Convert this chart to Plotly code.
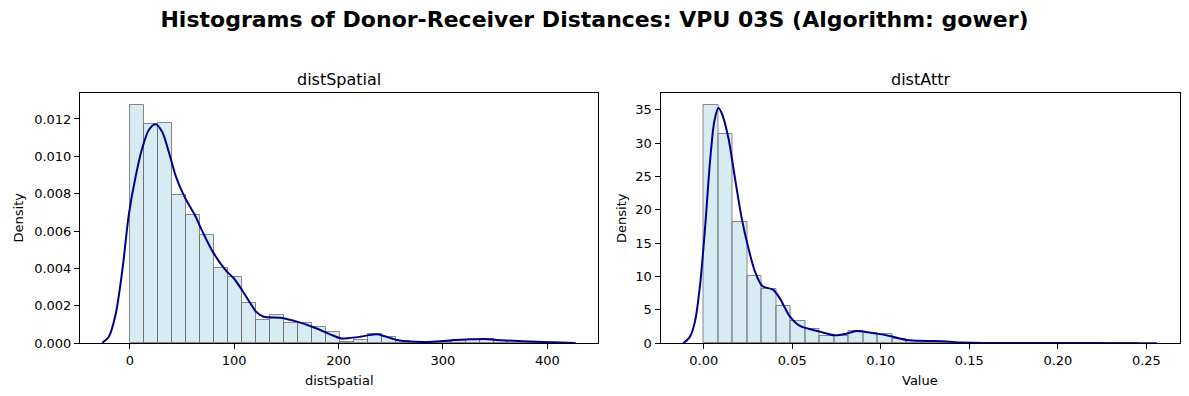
import numpy as np
import plotly.graph_objects as go

# ---------------- data ----------------
spatial_bin_start = 0.0
spatial_bin_width = 13.4
spatial_density = [0.01273, 0.01173, 0.01177, 0.00793, 0.00686, 0.00579, 0.00401, 0.00357,
                   0.00213, 0.00127, 0.00154, 0.00111, 0.00106, 0.00085, 0.00059, 0.00009,
                   0.00018, 0.00048, 0.00036, 0.00014, 0.00005, 0.00005, 0.00007, 0.00018,
                   0.00020, 0.00022, 0.00010, 0.00014, 0.00005, 0.00004]
spatial_kde_x = [-26.4, -20.1, -13.7, -7.3, -0.9, 5.5, 11.9, 18.2, 24.6, 31.0, 37.3, 43.7,
                 50.1, 54.0, 62.9, 67.4, 75.6, 80.4, 86.8, 93.2, 99.6, 107.5, 115.5, 121.0,
                 128.2, 144.2, 160.2, 176.0, 192.0, 201.6, 210.0, 220.7, 236.7, 255.8,
                 268.6, 285.0, 303.7, 326.0, 340.0, 351.5, 367.7, 383.4, 405.0, 427.0]
spatial_kde_y = [0.00003, 0.00035, 0.00151, 0.00383, 0.00690, 0.00890, 0.01043, 0.01141,
                 0.01172, 0.01132, 0.01025, 0.00900, 0.00811, 0.00767, 0.00680, 0.00624,
                 0.00530, 0.00481, 0.00428, 0.00383, 0.00348, 0.00285, 0.00214, 0.00169,
                 0.00142, 0.00137, 0.00116, 0.00086, 0.00048, 0.00027, 0.00028, 0.00035,
                 0.00048, 0.00018, 0.00009, 0.00007, 0.00014, 0.00021, 0.00023, 0.00018,
                 0.00013, 0.00009, 0.00005, 0.00002]

attr_bin_start = 0.0
attr_bin_width = 0.00819
attr_density = [35.7, 31.35, 18.15, 10.05, 8.1, 5.55, 3.3, 2.15, 1.14, 1.1, 1.8, 1.55,
                1.4, 0.7, 0.35, 0.25, 0.2, 0.1, 0.08, 0.06, 0.05, 0.04, 0.04, 0.03,
                0.03, 0.02, 0.02, 0.02, 0.02, 0.02]
attr_kde_x = [-0.0116, -0.0078, -0.005, -0.0021, 0.0007, 0.0035, 0.0059, 0.0082, 0.0101,
              0.0139, 0.0176, 0.0214, 0.0252, 0.0289, 0.033, 0.0393, 0.043, 0.0487, 0.0543,
              0.0656, 0.074, 0.080, 0.0864, 0.0977, 0.105, 0.1146, 0.125, 0.135, 0.146,
              0.16, 0.18, 0.20, 0.22, 0.24, 0.256]
attr_kde_y = [0.0, 1.0, 3.25, 8.75, 17.25, 27.2, 33.2, 35.25, 34.5, 30.75, 24.75, 18.75,
              14.25, 10.75, 8.6, 8.0, 6.7, 4.0, 2.6, 1.75, 1.2, 1.4, 1.85, 1.45, 1.1,
              0.5, 0.35, 0.3, 0.12, 0.06, 0.04, 0.03, 0.03, 0.02, 0.01]

spatial_xticks = [0, 100, 200, 300, 400]
spatial_yticks = [0.000, 0.002, 0.004, 0.006, 0.008, 0.010, 0.012]
attr_xticks = [0.00, 0.05, 0.10, 0.15, 0.20, 0.25]
attr_yticks = [0, 5, 10, 15, 20, 25, 30, 35]

title_text = "Histograms of Donor-Receiver Distances: VPU 03S (Algorithm: gower)"
panel_titles = ["distSpatial", "distAttr"]
x_titles = ["distSpatial", "Value"]

# ---------------- figure ----------------
W, H = 1189, 396
FONT = "DejaVu Sans"
BAR_FILL = "rgba(173,216,230,0.5)"
BAR_EDGE = "rgba(100,100,100,0.75)"
KDE_COLOR = "#00008B"

def centers(start, width, n):
    return start + width * (np.arange(n) + 0.5)

fig = go.Figure()
fig.add_trace(go.Bar(
    x=centers(spatial_bin_start, spatial_bin_width, len(spatial_density)),
    y=spatial_density, width=spatial_bin_width,
    marker=dict(color=BAR_FILL, line=dict(color=BAR_EDGE, width=1)),
    xaxis="x", yaxis="y", showlegend=False, hoverinfo="skip"))
fig.add_trace(go.Scatter(
    x=spatial_kde_x, y=spatial_kde_y, mode="lines",
    line=dict(color=KDE_COLOR, width=2, shape="spline", smoothing=0.8),
    xaxis="x", yaxis="y", showlegend=False))
fig.add_trace(go.Bar(
    x=centers(attr_bin_start, attr_bin_width, len(attr_density)),
    y=attr_density, width=attr_bin_width,
    marker=dict(color=BAR_FILL, line=dict(color=BAR_EDGE, width=1)),
    xaxis="x2", yaxis="y2", showlegend=False, hoverinfo="skip"))
fig.add_trace(go.Scatter(
    x=attr_kde_x, y=attr_kde_y, mode="lines",
    line=dict(color=KDE_COLOR, width=2, shape="spline", smoothing=0.8),
    xaxis="x2", yaxis="y2", showlegend=False))

def px_x(p):
    return p / W

def px_y(p):
    return 1 - p / H

axis_common = dict(showline=True, linecolor="black", linewidth=1, mirror=True,
                   ticks="outside", ticklen=5, tickwidth=1, tickcolor="black",
                   showgrid=False, zeroline=False, automargin=False,
                   tickfont=dict(family=FONT, size=13, color="black"))

y_dom = [px_y(343.3), px_y(93)]
fig.update_layout(
    template="none",
    width=W, height=H, margin=dict(l=0, r=0, t=0, b=0, pad=0), autosize=False,
    plot_bgcolor="white", paper_bgcolor="white", bargap=0,
    font=dict(family=FONT, color="black"),
    title=dict(text="<b>" + title_text + "</b>", x=0.5, xanchor="center",
               y=px_y(19), yanchor="middle", automargin=False,
               font=dict(family=FONT, size=22, color="black")),
    xaxis=dict(domain=[px_x(80), px_x(598)], range=[-47.7, 448.5],
               tickvals=spatial_xticks, anchor="y", **axis_common),
    yaxis=dict(domain=y_dom, range=[0, 0.01339], tickvals=spatial_yticks,
               tickformat=".3f", anchor="x", **axis_common),
    xaxis2=dict(domain=[px_x(660.5), px_x(1180)], range=[-0.02446, 0.2690],
                tickvals=attr_xticks, tickformat=".2f", anchor="y2", **axis_common),
    yaxis2=dict(domain=y_dom, range=[0, 37.5], tickvals=attr_yticks,
                anchor="x2", **axis_common),
)

ann = []
for cx, t in zip([339, 920], panel_titles):
    ann.append(dict(text=t, x=px_x(cx), y=px_y(80), xref="paper", yref="paper",
                    xanchor="center", yanchor="middle", showarrow=False,
                    font=dict(family=FONT, size=16, color="black")))
for cx, t in zip([339, 920], x_titles):
    ann.append(dict(text=t, x=px_x(cx), y=px_y(380), xref="paper", yref="paper",
                    xanchor="center", yanchor="middle", showarrow=False,
                    font=dict(family=FONT, size=13, color="black")))
for cx in [17.5, 621]:
    ann.append(dict(text="Density", x=px_x(cx), y=px_y(218), xref="paper", yref="paper",
                    xanchor="center", yanchor="middle", showarrow=False, textangle=-90,
                    font=dict(family=FONT, size=13, color="black")))
fig.update_layout(annotations=ann)

fig.write_html("out.html", config={"displayModeBar": False},
               post_script="document.body.style.margin='0';document.body.style.overflow='hidden';")
